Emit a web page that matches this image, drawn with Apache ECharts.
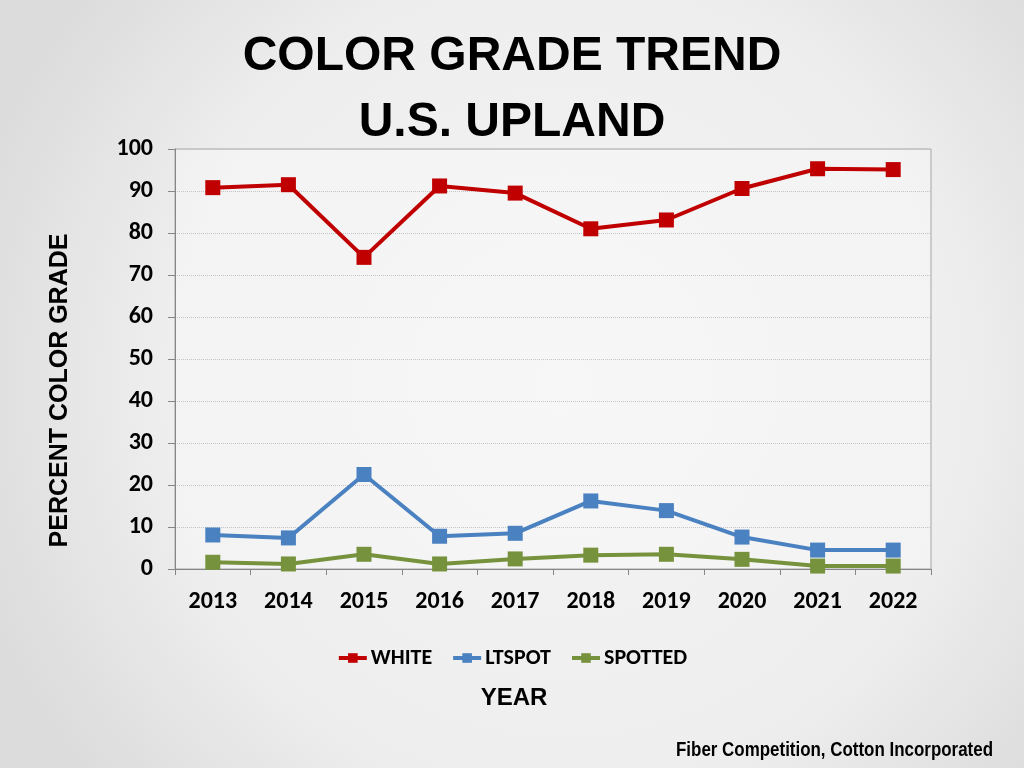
<!DOCTYPE html>
<html>
<head>
<meta charset="utf-8">
<script src="https://cdn.jsdelivr.net/npm/echarts@6/dist/echarts.min.js"></script>
<style>
html,body{margin:0;padding:0;width:1024px;height:768px;overflow:hidden;}
#chart{width:1024px;height:768px;}
</style>
</head>
<body>
<div id="chart"></div>
<script>
var years = ['2013','2014','2015','2016','2017','2018','2019','2020','2021','2022'];
var white = [90.8, 91.5, 74.2, 91.2, 89.5, 81.0, 83.1, 90.6, 95.3, 95.1];
var ltspot = [8.1, 7.4, 22.5, 7.8, 8.5, 16.2, 13.9, 7.6, 4.5, 4.5];
var spotted = [1.6, 1.2, 3.5, 1.2, 2.4, 3.3, 3.5, 2.3, 0.7, 0.7];
var yTicks = [0, 10, 20, 30, 40, 50, 60, 70, 80, 90, 100];

var calibri = 'Carlito, Lato, "Open Sans", sans-serif';
var arial = '"Liberation Sans", Arial, sans-serif';

// footer font: condensed look via horizontal scaling
var footerText = 'Fiber Competition, Cotton Incorporated';
var footerFont = 'bold 21px "Liberation Sans", Arial, sans-serif';
var cv = document.createElement('canvas').getContext('2d');
cv.font = footerFont;
var footerW = cv.measureText(footerText).width;
var footerScale = 317 / footerW;

var chart = echarts.init(document.getElementById('chart'));
function mk(name, data, color) {
  return {
    name: name, type: 'line', data: data,
    symbol: 'rect', symbolSize: 15,
    lineStyle: {width: 4, color: color},
    itemStyle: {color: color},
    emphasis: {disabled: true},
    animation: false
  };
}
chart.setOption({
  backgroundColor: {
    type: 'radial', x: 0.55, y: 0.5, r: 0.8,
    colorStops: [
      {offset: 0, color: '#f4f4f4'},
      {offset: 0.65, color: '#eeeeee'},
      {offset: 1, color: '#dcdcdc'}
    ]
  },
  title: {
    text: 'COLOR GRADE TREND\nU.S. UPLAND',
    left: 'center', top: 19,
    textStyle: {fontFamily: arial, fontWeight: 'bold', fontSize: 48, lineHeight: 66, color: '#000'}
  },
  graphic: [
    {type: 'text', x: 676, y: 750.5, scaleX: footerScale,
     style: {text: footerText, font: footerFont, fill: '#000', align: 'left', verticalAlign: 'middle'}},
    {type: 'text', x: 60, y: 390.5, rotation: Math.PI / 2,
     style: {text: 'PERCENT COLOR GRADE', fontFamily: arial, fontWeight: 'bold', fontSize: 25, fill: '#000', align: 'center', verticalAlign: 'middle'}},
    {type: 'text', x: 514, y: 698,
     style: {text: 'YEAR', fontFamily: arial, fontWeight: 'bold', fontSize: 24, fill: '#000', align: 'center', verticalAlign: 'middle'}}
  ],
  legend: {
    data: ['WHITE', 'LTSPOT', 'SPOTTED'],
    top: 642, left: 'center',
    itemWidth: 28, itemHeight: 12, itemGap: 19,
    lineStyle: {width: 4},
    textStyle: {fontFamily: calibri, fontWeight: 'bold', fontSize: 22, color: '#000', padding: [0, 0, 0, -1]}
  },
  grid: {left: 175, right: 93, top: 149, bottom: 199, show: true, borderColor: '#a6a6a6', borderWidth: 1, backgroundColor: 'rgba(255,255,255,0.3)'},
  xAxis: {
    type: 'category', data: years, boundaryGap: true,
    axisLine: {lineStyle: {color: '#868686', width: 1}},
    axisTick: {show: true, length: 6, interval: 0, lineStyle: {color: '#868686'}},
    axisLabel: {fontFamily: calibri, fontWeight: 'bold', fontSize: 24, color: '#000', margin: 21},
    splitLine: {show: false}
  },
  yAxis: {
    type: 'value', min: 0, max: 100, interval: 10,
    axisLine: {show: true, lineStyle: {color: '#868686', width: 1}},
    axisTick: {show: true, length: 7, lineStyle: {color: '#868686'}},
    axisLabel: {fontFamily: calibri, fontWeight: 'bold', fontSize: 24, color: '#000', margin: 22,
      formatter: function (v) { return yTicks.indexOf(v) >= 0 ? String(v) : ''; }},
    splitLine: {show: true, lineStyle: {color: '#c4c4c4', type: 'dotted', width: 1}}
  },
  series: [
    mk('WHITE', white, '#c00000'),
    mk('LTSPOT', ltspot, '#4a81c0'),
    mk('SPOTTED', spotted, '#76923c')
  ]
});
</script>
</body>
</html>
